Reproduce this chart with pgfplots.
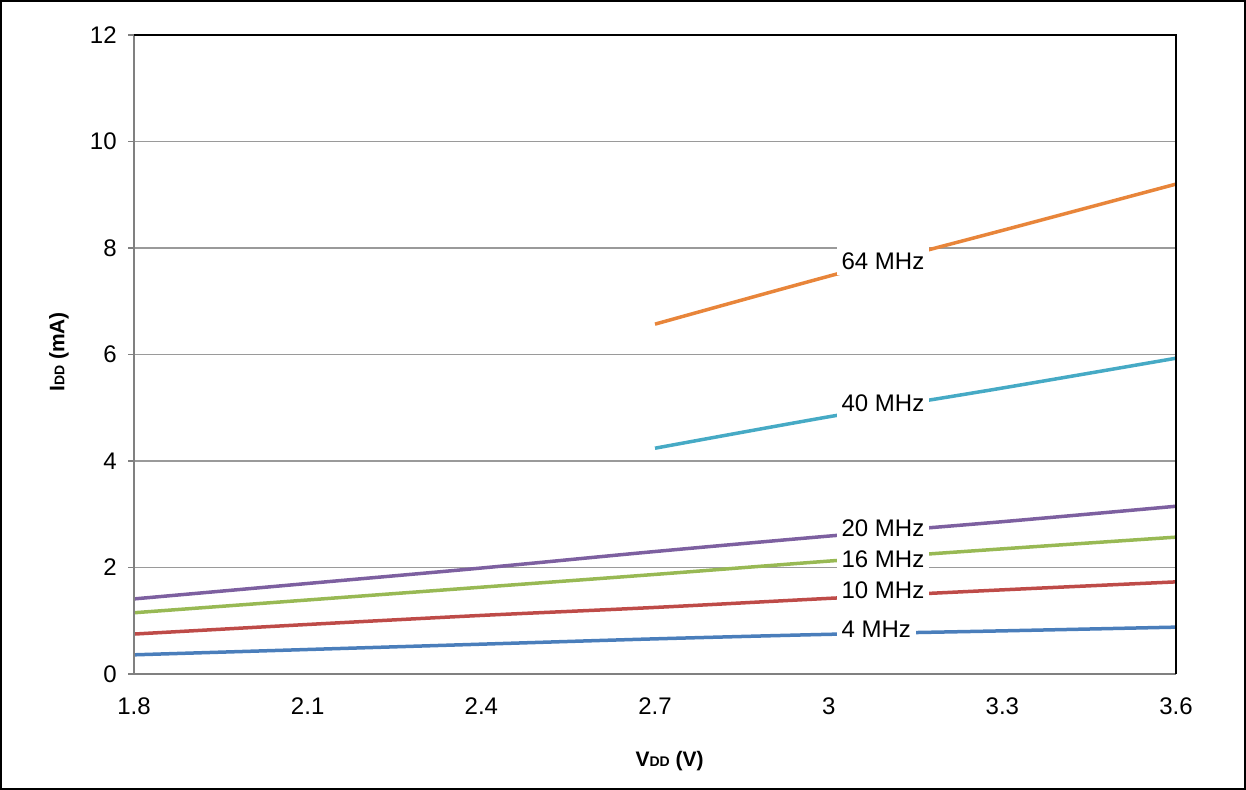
\documentclass[border=0pt]{standalone}
\usepackage{pgfplots}
\pgfplotsset{compat=1.18}
\usepackage{fontspec}
\setmainfont{Liberation Sans}
\definecolor{cfour}{HTML}{4A7EBB}
\definecolor{cten}{HTML}{BE4B48}
\definecolor{csixteen}{HTML}{98B954}
\definecolor{ctwenty}{HTML}{7D60A0}
\definecolor{cforty}{HTML}{46AAC5}
\definecolor{csixtyfour}{HTML}{E8853A}
\definecolor{cgrid}{HTML}{9A9A9A}
\definecolor{caxis}{HTML}{808080}
\begin{document}
\begin{tikzpicture}
\begin{axis}[
  at={(0,0)}, anchor=south west,
  scale only axis, width=521pt, height=319.5pt,
  xmin=1.8, xmax=3.6, ymin=0, ymax=12,
  xtick={1.8,2.1,2.4,2.7,3.0,3.3,3.6},
  xticklabels={1.8,2.1,2.4,2.7,3,3.3,3.6},
  ytick={0,2,4,6,8,10,12},
  ymajorgrids, grid style={color=cgrid, line width=0.75pt},
  axis line style={draw=none},
  tick pos=left,
  xtick style={draw=none},
  ytick style={draw=caxis, line width=0.75pt},
  major tick length=3pt, tick align=outside,
  tick label style={font=\fontsize{12}{14}\selectfont},
  /pgf/number format/assume math mode=true,
  yticklabel style={anchor=east, inner sep=0pt, xshift=-5.5pt},
  xticklabel style={anchor=north, inner sep=0pt, yshift=-8.5pt},
  xlabel={\textbf{V{\fontsize{7}{8}\selectfont DD} (V)}},
  ylabel={\textbf{I{\fontsize{7}{8}\selectfont DD} (mA)}},
  xlabel style={at={(axis description cs:0.514,-0.136)}, anchor=center, font=\fontsize{10.5}{12}\selectfont},
  ylabel style={at={(axis description cs:-0.072,0.504)}, anchor=center, font=\fontsize{10.5}{12}\selectfont},
  clip=false,
  every axis plot/.append style={line width=1.75pt, smooth, no markers},
]
\addplot[cfour] coordinates {(1.8,0.36) (2.1,0.46) (2.4,0.56) (2.7,0.66) (3.0,0.745) (3.3,0.81) (3.6,0.88)};
\addplot[cten] coordinates {(1.8,0.75) (2.1,0.93) (2.4,1.10) (2.7,1.25) (3.0,1.42) (3.3,1.58) (3.6,1.73)};
\addplot[csixteen] coordinates {(1.8,1.15) (2.1,1.39) (2.4,1.63) (2.7,1.87) (3.0,2.12) (3.3,2.35) (3.6,2.57)};
\addplot[ctwenty] coordinates {(1.8,1.41) (2.1,1.70) (2.4,1.99) (2.7,2.30) (3.0,2.59) (3.3,2.86) (3.6,3.15)};
\addplot[cforty] coordinates {(2.7,4.24) (3.0,4.83) (3.3,5.37) (3.6,5.93)};
\addplot[csixtyfour] coordinates {(2.7,6.57) (3.0,7.47) (3.3,8.33) (3.6,9.20)};
\draw[caxis, line width=1pt] (rel axis cs:0,1) -- (rel axis cs:0,0) -- (rel axis cs:1,0);
\draw[black, line width=1pt] (rel axis cs:0,1) -- (rel axis cs:1,1) -- (rel axis cs:1,0);
\begin{scope}[every node/.style={fill=white, anchor=west, inner xsep=2.5pt, inner ysep=3pt, font=\fontsize{12}{14}\selectfont}]
\node at (axis cs:3.013,7.76) {64 MHz};
\node at (axis cs:3.013,5.08) {40 MHz};
\node at (axis cs:3.013,2.74) {20 MHz};
\node at (axis cs:3.013,2.16) {16 MHz};
\node at (axis cs:3.013,1.57) {10 MHz};
\node at (axis cs:3.013,0.845) {4 MHz};
\end{scope}
\end{axis}
\draw[black, line width=1pt] (-66.5pt,-57.5pt) rectangle (555.5pt,336.5pt);
\end{tikzpicture}
\end{document}
